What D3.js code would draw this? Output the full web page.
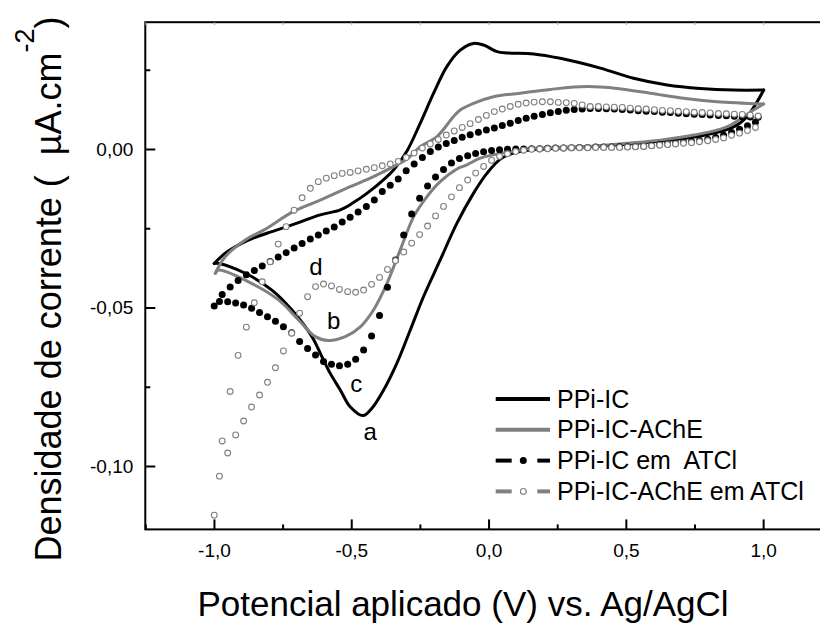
<!DOCTYPE html>
<html>
<head>
<meta charset="utf-8">
<script src="https://cdnjs.cloudflare.com/ajax/libs/d3/7.8.5/d3.min.js"></script>
<style>
	body { margin: 0; background: #fff; }
	svg text { font-family: "Liberation Sans", Arial, sans-serif; fill: #000; }
</style>
</head>
<body>
<div id="chart-area"></div>
<script>

// SVG Size
var width = 820,
	height = 626;

// ---- data (potential in V, current density in uA.cm-2) ----

// PPi-IC (solid black), anodic sweep then cathodic sweep
var ppiIcFwdV = [-0.999,-0.959,-0.898,-0.857,-0.795,-0.734,-0.613,-0.540,-0.492,-0.443,-0.384,-0.346,-0.297,-0.249,-0.200,-0.152,-0.103,-0.055,-0.018,0.031,0.067,0.164,0.261,0.407,0.528,0.650,0.771,0.892,1.002];
var ppiIcFwdI = [-0.0361,-0.0329,-0.0297,-0.0281,-0.0262,-0.0245,-0.0208,-0.0192,-0.0169,-0.0140,-0.0098,-0.0066,-0.0006,0.0081,0.0176,0.0260,0.0312,0.0333,0.0328,0.0307,0.0303,0.0300,0.0286,0.0255,0.0223,0.0202,0.0191,0.0186,0.0186];
var ppiIcRevV = [1.002,0.941,0.891,0.770,0.589,0.407,0.261,0.152,0.097,0.043,-0.006,-0.055,-0.115,-0.176,-0.237,-0.285,-0.334,-0.382,-0.424,-0.457,-0.504,-0.540,-0.577,-0.607,-0.643,-0.716,-0.789,-0.886,-0.983,-0.999];
var ppiIcRevI = [0.0186,0.0102,0.0069,0.0041,0.0022,0.0009,0.0003,-0.0003,-0.0011,-0.0032,-0.0077,-0.0140,-0.0234,-0.0350,-0.0466,-0.0571,-0.0676,-0.0760,-0.0817,-0.0841,-0.0813,-0.0760,-0.0707,-0.0655,-0.0592,-0.0508,-0.0445,-0.0392,-0.0361,-0.0361];

// PPi-IC-AChE (solid gray)
var ppiIcAcheFwdV = [-0.995,-0.959,-0.886,-0.819,-0.710,-0.613,-0.504,-0.419,-0.334,-0.297,-0.249,-0.188,-0.128,-0.103,-0.055,0.018,0.115,0.225,0.358,0.468,0.589,0.710,0.832,1.002];
var ppiIcAcheFwdI = [-0.0392,-0.0340,-0.0287,-0.0256,-0.0197,-0.0161,-0.0119,-0.0087,-0.0050,-0.0032,0.0007,0.0039,0.0102,0.0123,0.0144,0.0165,0.0176,0.0188,0.0197,0.0191,0.0176,0.0160,0.0149,0.0142];
var ppiIcAcheRevV = [1.002,0.965,0.868,0.747,0.625,0.504,0.382,0.261,0.164,0.043,-0.030,-0.079,-0.115,-0.176,-0.224,-0.273,-0.322,-0.370,-0.419,-0.467,-0.522,-0.583,-0.631,-0.692,-0.765,-0.874,-0.983,-0.995];
var ppiIcAcheRevI = [0.0142,0.0123,0.0070,0.0044,0.0028,0.0018,0.0009,0.0005,0.0002,-0.0014,-0.0029,-0.0050,-0.0063,-0.0103,-0.0150,-0.0214,-0.0319,-0.0424,-0.0508,-0.0561,-0.0592,-0.0604,-0.0592,-0.0539,-0.0476,-0.0419,-0.0382,-0.0392];

// sampled potentials of the scatter series (anodic and cathodic sweep)
var scanFwdV = [-0.999,-0.970,-0.941,-0.912,-0.882,-0.853,-0.824,-0.795,-0.766,-0.737,
	-0.708,-0.679,-0.649,-0.620,-0.591,-0.562,-0.533,-0.504,-0.475,-0.445,
	-0.416,-0.387,-0.358,-0.329,-0.300,-0.271,-0.241,-0.212,-0.183,-0.154,
	-0.125,-0.096,-0.067,-0.037,-0.008,0.021,0.050,0.079,0.108,0.137,
	0.166,0.196,0.225,0.254,0.283,0.312,0.341,0.370,0.400,0.429,
	0.458,0.487,0.516,0.545,0.574,0.604,0.633,0.662,0.691,0.720,
	0.749,0.778,0.807,0.837,0.866,0.895,0.924,0.953,0.982];
var scanRevV = [-0.980,-0.950,-0.921,-0.892,-0.863,-0.834,-0.805,-0.776,-0.747,-0.717,
	-0.688,-0.659,-0.630,-0.601,-0.572,-0.543,-0.513,-0.484,-0.455,-0.426,
	-0.397,-0.368,-0.339,-0.309,-0.280,-0.251,-0.222,-0.193,-0.164,-0.135,
	-0.106,-0.076,-0.047,-0.018,0.011,0.040,0.069,0.099,0.128,0.157,
	0.186,0.215,0.244,0.273,0.302,0.331,0.361,0.390,0.419,0.448,
	0.477,0.506,0.535,0.565,0.594,0.623,0.652,0.681,0.710,0.739,
	0.768,0.798,0.827,0.856,0.885,0.914,0.943,0.972];

// PPi-IC em ATCl (filled circles)
var ppiIcAtclFwdI = [-0.0495,-0.0459,-0.0435,-0.0415,-0.0397,-0.0383,-0.0369,-0.0355,-0.0341,-0.0327,
	-0.0312,-0.0298,-0.0284,-0.0271,-0.0259,-0.0246,-0.0230,-0.0215,-0.0199,-0.0181,
	-0.0161,-0.0134,-0.0114,-0.0095,-0.0069,-0.0047,-0.0027,-0.0008,0.0006,0.0017,
	0.0027,0.0037,0.0045,0.0053,0.0060,0.0066,0.0074,0.0081,0.0090,0.0097,
	0.0103,0.0109,0.0114,0.0118,0.0122,0.0125,0.0126,0.0128,0.0128,0.0127,
	0.0126,0.0125,0.0123,0.0121,0.0119,0.0118,0.0116,0.0115,0.0113,0.0111,
	0.0110,0.0109,0.0107,0.0106,0.0105,0.0103,0.0102,0.0101,0.0100];
var ppiIcAtclRevI = [-0.0481,-0.0482,-0.0486,-0.0492,-0.0502,-0.0516,-0.0529,-0.0543,-0.0561,-0.0580,
	-0.0607,-0.0629,-0.0650,-0.0670,-0.0679,-0.0684,-0.0679,-0.0663,-0.0634,-0.0590,
	-0.0525,-0.0436,-0.0350,-0.0271,-0.0205,-0.0155,-0.0117,-0.0088,-0.0065,-0.0044,
	-0.0030,-0.0021,-0.0014,-0.0009,-0.0005,-0.0002,-0.0001,0.0000,0.0000,0.0001,
	0.0001,0.0002,0.0003,0.0003,0.0004,0.0005,0.0005,0.0006,0.0006,0.0006,
	0.0007,0.0007,0.0008,0.0009,0.0011,0.0014,0.0016,0.0018,0.0021,0.0024,
	0.0027,0.0031,0.0036,0.0043,0.0052,0.0062,0.0073,0.0084];

// PPi-IC-AChE em ATCl (open circles)
var ppiIcAcheAtclFwdI = [-0.1155,-0.0921,-0.0765,-0.0651,-0.0562,-0.0485,-0.0419,-0.0356,-0.0300,-0.0245,
	-0.0193,-0.0154,-0.0124,-0.0103,-0.0092,-0.0084,-0.0077,-0.0074,-0.0069,-0.0064,
	-0.0059,-0.0053,-0.0047,-0.0039,-0.0027,-0.0013,0.0003,0.0016,0.0030,0.0044,
	0.0057,0.0068,0.0080,0.0093,0.0106,0.0118,0.0126,0.0134,0.0141,0.0145,
	0.0148,0.0149,0.0149,0.0147,0.0146,0.0144,0.0139,0.0134,0.0134,0.0133,
	0.0132,0.0131,0.0129,0.0127,0.0126,0.0124,0.0122,0.0121,0.0119,0.0118,
	0.0116,0.0115,0.0114,0.0112,0.0111,0.0110,0.0109,0.0107,0.0104];
var ppiIcAcheAtclRevI = [-0.1032,-0.0959,-0.0902,-0.0858,-0.0814,-0.0776,-0.0736,-0.0690,-0.0637,-0.0581,
	-0.0518,-0.0466,-0.0434,-0.0426,-0.0432,-0.0443,-0.0450,-0.0452,-0.0445,-0.0427,
	-0.0405,-0.0380,-0.0352,-0.0325,-0.0297,-0.0270,-0.0243,-0.0211,-0.0181,-0.0151,
	-0.0122,-0.0098,-0.0076,-0.0055,-0.0036,-0.0023,-0.0015,-0.0008,-0.0004,-0.0001,
	0.0000,0.0001,0.0002,0.0003,0.0004,0.0004,0.0004,0.0005,0.0005,0.0005,
	0.0005,0.0006,0.0007,0.0008,0.0010,0.0012,0.0014,0.0016,0.0018,0.0020,
	0.0023,0.0026,0.0030,0.0035,0.0043,0.0050,0.0058,0.0068];

// ticks
var xTickValues = [-1.0, -0.5, 0.0, 0.5, 1.0];
var xTickLabels = ["-1,0", "-0,5", "0,0", "0,5", "1,0"];
var xMinorValues = [-1.25, -0.75, -0.25, 0.25, 0.75];
var yTickValues = [-0.10, -0.05, 0.00];
var yTickLabels = ["-0,10", "-0,05", "0,00"];
var yMinorValues = [-0.075, -0.025, 0.025];

// curve letters
var peakLetters = ["a", "b", "c", "d"];
var peakV = [-0.431, -0.564, -0.482, -0.629];
var peakI = [-0.0918, -0.0568, -0.0766, -0.0398];

var legendLabels = ["PPi-IC", "PPi-IC-AChE", "PPi-IC em  ATCl", "PPi-IC-AChE em ATCl"];

var gray = "#808080";

function pairs(vs, is) {
	return vs.map(function(v, i){ return {v: v, i: is[i]}; });
}

var svg = d3.select("#chart-area").append("svg")
	.attr("width", width)
	.attr("height", height);

// scales
var x = d3.scaleLinear()
	.domain([-1.25, 1.25])
	.range([145.3, 831.8]);
var y = d3.scaleLinear()
	.domain([-0.12, 0.04])
	.range([529.4, 22.2]);

var line = d3.line()
	.x(function(d){ return x(d.v); })
	.y(function(d){ return y(d.i); })
	.curve(d3.curveCatmullRom.alpha(0.5));

// frame
svg.append("rect")
	.attr("x", x(-1.25))
	.attr("y", y(0.04))
	.attr("width", x(1.25) - x(-1.25))
	.attr("height", y(-0.12) - y(0.04))
	.attr("fill", "none")
	.attr("stroke", "#000")
	.attr("stroke-width", 2);

// axes (ticks point inwards)
var xAxis = d3.axisBottom(x)
	.tickValues(xTickValues)
	.tickFormat(function(d, i){ return xTickLabels[i]; })
	.tickSizeInner(-10)
	.tickSizeOuter(0)
	.tickPadding(13.8);
var xAxisMinor = d3.axisBottom(x)
	.tickValues(xMinorValues)
	.tickFormat("")
	.tickSizeInner(-5)
	.tickSizeOuter(0);
var xTopMinor = d3.axisTop(x)
	.tickValues(xTickValues.concat(xMinorValues))
	.tickFormat("")
	.tickSizeInner(-3)
	.tickSizeOuter(0);
var yAxis = d3.axisLeft(y)
	.tickValues(yTickValues)
	.tickFormat(function(d, i){ return yTickLabels[i]; })
	.tickSizeInner(-10)
	.tickSizeOuter(0)
	.tickPadding(12);
var yAxisMinor = d3.axisLeft(y)
	.tickValues(yMinorValues)
	.tickFormat("")
	.tickSizeInner(-5)
	.tickSizeOuter(0);

svg.append("g").attr("class", "xAxis")
	.attr("transform", "translate(0," + y(-0.12) + ")")
	.call(xAxis);
svg.append("g").attr("class", "xAxis minor")
	.attr("transform", "translate(0," + y(-0.12) + ")")
	.call(xAxisMinor);
svg.append("g").attr("class", "xAxis top")
	.attr("transform", "translate(0," + y(0.04) + ")")
	.call(xTopMinor);
svg.append("g").attr("class", "yAxis")
	.attr("transform", "translate(" + x(-1.25) + ",0)")
	.call(yAxis);
svg.append("g").attr("class", "yAxis minor")
	.attr("transform", "translate(" + x(-1.25) + ",0)")
	.call(yAxisMinor);

svg.selectAll(".domain").remove();
svg.selectAll(".tick line").attr("stroke", "#000").attr("stroke-width", 2);
svg.selectAll(".top .tick line").attr("stroke", "#aaa").attr("stroke-width", 1);
svg.selectAll(".tick text")
	.style("font-family", "'Liberation Sans', Arial, sans-serif")
	.style("font-size", "19px")
	.attr("fill", "#000");

// solid curves, each sweep as its own path
var solids = [
	{d: pairs(ppiIcFwdV, ppiIcFwdI), c: "#000"},
	{d: pairs(ppiIcRevV, ppiIcRevI), c: "#000"},
	{d: pairs(ppiIcAcheFwdV, ppiIcAcheFwdI), c: gray},
	{d: pairs(ppiIcAcheRevV, ppiIcAcheRevI), c: gray}
];
svg.selectAll("path.cv")
	.data(solids)
	.enter()
	.append("path")
	.attr("class", "cv")
	.attr("d", function(s){ return line(s.d); })
	.attr("fill", "none")
	.attr("stroke", function(s){ return s.c; })
	.attr("stroke-width", 3)
	.attr("stroke-linejoin", "round")
	.attr("stroke-linecap", "round");

// filled circles
var filled = pairs(scanFwdV, ppiIcAtclFwdI).concat(pairs(scanRevV, ppiIcAtclRevI));
svg.selectAll("circle.filled")
	.data(filled)
	.enter()
	.append("circle")
	.attr("class", "filled")
	.attr("cx", function(d){ return x(d.v); })
	.attr("cy", function(d){ return y(d.i); })
	.attr("r", 3.5)
	.attr("fill", "#000");

// open circles
var open = pairs(scanFwdV, ppiIcAcheAtclFwdI).concat(pairs(scanRevV, ppiIcAcheAtclRevI));
svg.selectAll("circle.open")
	.data(open)
	.enter()
	.append("circle")
	.attr("class", "open")
	.attr("cx", function(d){ return x(d.v); })
	.attr("cy", function(d){ return y(d.i); })
	.attr("r", 2.9)
	.attr("fill", "#fff")
	.attr("stroke", gray)
	.attr("stroke-width", 1.1);

// letters on the curves
svg.selectAll("text.peak")
	.data(peakLetters)
	.enter()
	.append("text")
	.attr("class", "peak")
	.attr("x", function(d, i){ return x(peakV[i]); })
	.attr("y", function(d, i){ return y(peakI[i]); })
	.attr("text-anchor", "middle")
	.style("font-size", "24px")
	.text(function(d){ return d; });

// legend
var legend = svg.append("g").attr("transform", "translate(495.7,399)");
var rowH = 30.8;
legendLabels.forEach(function(lab, i){
	var g = legend.append("g").attr("transform", "translate(0," + (i * rowH) + ")");
	var col = (i % 2 == 0) ? "#000" : gray;
	if (i < 2) {
		g.append("line").attr("x1", 0).attr("x2", 54.3).attr("y1", 0).attr("y2", 0)
			.attr("stroke", col).attr("stroke-width", 4);
	} else {
		g.append("line").attr("x1", 0).attr("x2", 16).attr("y1", 0).attr("y2", 0)
			.attr("stroke", col).attr("stroke-width", 4);
		g.append("line").attr("x1", 41.6).attr("x2", 54.3).attr("y1", 0).attr("y2", 0)
			.attr("stroke", col).attr("stroke-width", 4);
		if (i == 2) {
			g.append("circle").attr("cx", 27.6).attr("cy", 0).attr("r", 3.5).attr("fill", "#000");
		} else {
			g.append("circle").attr("cx", 27.6).attr("cy", 0).attr("r", 2.9)
				.attr("fill", "#fff").attr("stroke", gray).attr("stroke-width", 1.1);
		}
	}
	g.append("text")
		.attr("x", 61.3)
		.attr("y", 8.6)
		.style("font-size", "25px")
		.style("white-space", "pre")
		.text(lab);
});

// axis titles
svg.append("text")
	.attr("x", 463)
	.attr("y", 616)
	.attr("text-anchor", "middle")
	.style("font-size", "35px")
	.text("Potencial aplicado (V) vs. Ag/AgCl");

var yTitle = svg.append("text")
	.attr("transform", "translate(61,289) rotate(-90)")
	.attr("text-anchor", "middle")
	.style("font-size", "36px")
	.style("white-space", "pre");
yTitle.append("tspan").text("Densidade de corrente (  µA.cm");
yTitle.append("tspan").attr("dy", -27).style("font-size", "27px").text("-2");
yTitle.append("tspan").attr("dy", 27).text(")");

</script>
</body>
</html>
